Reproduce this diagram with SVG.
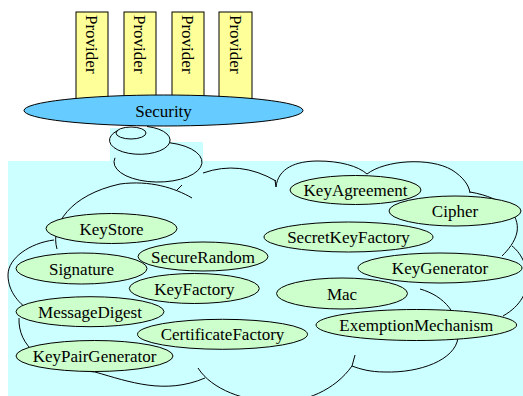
<svg xmlns="http://www.w3.org/2000/svg" width="523" height="396" viewBox="0 0 523 396">
<style>
.bg{fill:#ccffff;stroke:none}
.arc{fill:none;stroke:#000;stroke-width:1}
.prov{fill:#ffff99;stroke:#000;stroke-width:1}
.sec{fill:#66ccff;stroke:#000;stroke-width:1}
.svc{fill:#ccffcc;stroke:#000;stroke-width:1}
.t{font-family:'Liberation Serif','DejaVu Serif',serif;font-size:17px;fill:#000}
.c{text-anchor:middle}
</style>
<rect class="bg" x="110" y="128" width="60" height="34"/>
<rect class="bg" x="170" y="142" width="33" height="20"/>
<rect class="bg" x="8" y="161" width="515" height="235"/>

<g id="connectors">
<ellipse class="arc" cx="131" cy="133" rx="15" ry="6"/>
<path class="arc" d="M147,126.5 A30.3,14.1 0 1 1 118,130.4"/>
<path class="arc" d="M170,142.8 A44,20 0 1 1 115,157.8"/>
<path class="arc" d="M57,249 C50,225 70,195 120,184 C150,180 175,188 192,198"/>
<path class="arc" d="M177,190 L182,185"/>
<path class="arc" d="M54,240 C30,243 8,258 8,275 C8,292 20,305 32,312"/>
<path class="arc" d="M19,318 C18,345 40,368 95,372 C130,382 165,395 205,378"/>
<path class="arc" d="M198,368 C212,390 245,401 275,402 C305,403 335,390 352,366"/>
<path class="arc" d="M352,366 L355,355"/>
<path class="arc" d="M420,289 C445,296 460,315 458,338 C455,360 420,373 385,372 C370,372 360,369 352,366"/>
<path class="arc" d="M512,246 C528,258 540,295 503,316"/>
<path class="arc" d="M470,192 C505,198 520,215 517,232 C515,242 508,250 502,256"/>
<path class="arc" d="M367,174 C385,160 430,157 452,170 C463,177 469,185 470,193"/>
<path class="arc" d="M276,187 C278,168 296,161 318,161 C340,161 358,166 367,174"/>
<path class="arc" d="M275,180 L276,187"/>
<path class="arc" d="M203,173 Q240,160 276,181"/>
</g>

<g id="provider1"><rect class="prov" x="76" y="12" width="32" height="92"/><text class="t" font-family="Liberation Serif, serif" transform="translate(86,15) rotate(90)">Provider</text></g>
<g id="provider2"><rect class="prov" x="124" y="12" width="32" height="92"/><text class="t" font-family="Liberation Serif, serif" transform="translate(134,15) rotate(90)">Provider</text></g>
<g id="provider3"><rect class="prov" x="172" y="12" width="32" height="92"/><text class="t" font-family="Liberation Serif, serif" transform="translate(182,15) rotate(90)">Provider</text></g>
<g id="provider4"><rect class="prov" x="219" y="12" width="33" height="92"/><text class="t" font-family="Liberation Serif, serif" transform="translate(229.5,15) rotate(90)">Provider</text></g>
<g id="security"><ellipse class="sec" cx="163.5" cy="110.5" rx="139.5" ry="15.5"/><text class="t c" x="163.5" y="116.5">Security</text></g>

<g id="keyagreement"><ellipse class="svc" cx="355.5" cy="190" rx="65.5" ry="14.5"/><text class="t c" x="355.5" y="196">KeyAgreement</text></g>
<g id="cipher"><ellipse class="svc" cx="455" cy="211" rx="66" ry="15"/><text class="t c" x="455" y="217">Cipher</text></g>
<g id="keystore"><ellipse class="svc" cx="111.5" cy="228.5" rx="65.5" ry="15"/><text class="t c" x="111.5" y="234.5">KeyStore</text></g>
<g id="secretkeyfactory"><ellipse class="svc" cx="348.5" cy="237" rx="84.5" ry="15"/><text class="t c" x="348.5" y="243">SecretKeyFactory</text></g>
<g id="securerandom"><ellipse class="svc" cx="203" cy="256.5" rx="65" ry="14.5"/><text class="t c" x="203" y="262.5">SecureRandom</text></g>
<g id="signature"><ellipse class="svc" cx="81.5" cy="268.5" rx="65.5" ry="15.5"/><text class="t c" x="81.5" y="274.5">Signature</text></g>
<g id="keygenerator"><ellipse class="svc" cx="440" cy="268" rx="82" ry="15"/><text class="t c" x="440" y="274">KeyGenerator</text></g>
<g id="keyfactory"><ellipse class="svc" cx="194.3" cy="288.5" rx="65" ry="15"/><text class="t c" x="194.3" y="294.5">KeyFactory</text></g>
<g id="mac"><ellipse class="svc" cx="342" cy="293.5" rx="65.5" ry="15.5"/><text class="t c" x="342" y="299.5">Mac</text></g>
<g id="messagedigest"><ellipse class="svc" cx="90" cy="311.7" rx="74" ry="15"/><text class="t c" x="90" y="317.7">MessageDigest</text></g>
<g id="exemptionmechanism"><ellipse class="svc" cx="416.3" cy="325" rx="100.3" ry="15.5"/><text class="t c" x="416.3" y="331">ExemptionMechanism</text></g>
<g id="certificatefactory"><ellipse class="svc" cx="222.5" cy="334.3" rx="85" ry="15"/><text class="t c" x="222.5" y="340.3">CertificateFactory</text></g>
<g id="keypairgenerator"><ellipse class="svc" cx="94.5" cy="356" rx="78.5" ry="15.5"/><text class="t c" x="94.5" y="362">KeyPairGenerator</text></g>
</svg>
